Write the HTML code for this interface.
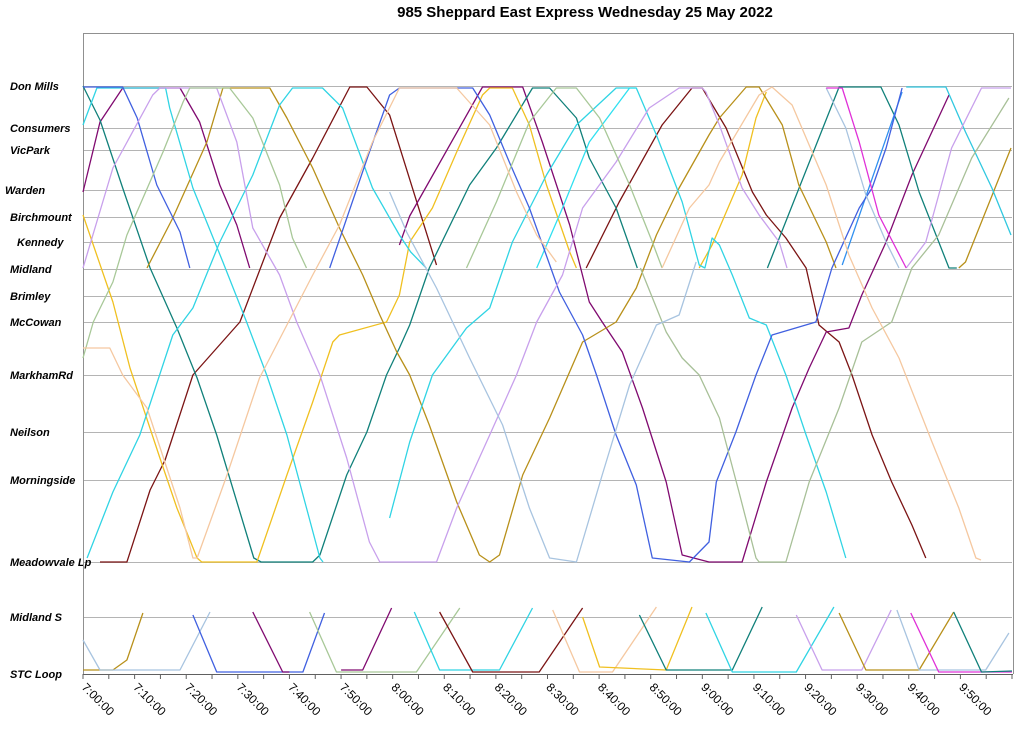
<!DOCTYPE html>
<html><head><meta charset="utf-8"><style>
body{margin:0;background:#fff;}
svg{display:block;font-family:"Liberation Sans",sans-serif;}
</style></head><body>
<svg id="chart" width="1024" height="738"></svg>
<script>
const stationNames=["Don Mills","Consumers","VicPark","Warden","Birchmount","Kennedy","Midland","Brimley","McCowan","MarkhamRd","Neilson","Morningside","Meadowvale Lp","Midland S","STC Loop"];
const stationDist=[0,4.2,6.4,10.4,13.1,15.6,18.3,21.0,23.6,28.9,34.6,39.4,47.6,53.1,58.8];
const tickLabels=["7:00:00","7:10:00","7:20:00","7:30:00","7:40:00","7:50:00","8:00:00","8:10:00","8:20:00","8:30:00","8:40:00","8:50:00","9:00:00","9:10:00","9:20:00","9:30:00","9:40:00","9:50:00"];
const tickMinutes=[0,10,20,30,40,50,60,70,80,90,100,110,120,130,140,150,160,170];

const maroonA=[[3.3,47.6],[8.5,47.6],[13,40.4],[15.9,37.4],[21.3,28.9],[30.4,23.6],[38.1,13.2],[44.5,7.2],[51.7,0.1],[55,0.1],[59.4,2.9],[68.5,17.9]];
const maroonB=[[97.5,18.2],[103.9,11.6],[112.2,3.9],[118,0.2],[120,0.2],[124.6,4.2],[129.7,10.6],[132.4,12.9],[136.2,15.2],[140.1,18.2],[142.6,23.9],[146.5,25.6],[149,28.9],[152.9,34.9],[156.7,39.6],[160.6,43.9],[163.3,47.2]];
const purpleA=[[0,10.6],[3.3,3.6],[7.7,0.2],[18.8,0.2],[22.6,3.6],[26.5,9.9],[29.8,13.9],[32.3,18.2]];
const purpleB=[[61.3,15.9],[63.3,13],[77.4,0.1],[85.2,0.1],[89,5.6],[94.3,13.9],[98.1,21.6],[100.6,23.6],[104.5,26.6],[108.4,32.2],[113,39.6],[116.1,46.9],[121.3,47.6],[127.7,47.6],[132.4,39.6],[137.4,32.2],[140.7,28.2],[144,24.6],[148.4,24.2],[150.9,20.9],[155.6,15.6],[160.6,8.9],[167.8,0.9]];
const tealA=[[0,0],[3.3,3.4],[7.7,10.2],[13,18.2],[18.2,24.2],[22.1,29.2],[25.9,34.9],[33.1,47.2],[34.5,47.6],[44.5,47.6],[45.9,46.9],[51.1,38.9],[55,34.6],[58.8,28.9],[61.3,26.2],[63.3,23.9],[67.1,18.2],[74.9,9.9],[80.1,6.2],[87.1,0.2],[90.4,0.2],[95.6,3.2],[98.1,7.2],[103.3,12.2],[107.4,18.2]];
const tealB=[[132.6,18.2],[146.5,0.1],[154.6,0.1],[158.1,3.9],[162,10.6],[167.8,18.2],[169.3,18.2]];
const yellowA=[[0,12.9],[5.8,21.6],[9.1,28.2],[14.9,37.2],[18.2,42.2],[22.1,47.2],[23,47.6],[33.7,47.6],[39.5,38.9],[44.5,31.6],[48.4,25.6],[49.7,24.9],[58.8,23.6],[61.3,20.9],[63.3,15.6],[67.7,12.2],[72.4,6.6],[77.4,0.9],[78.8,0.2],[83.2,0.2],[86.5,3.9],[89.8,9.9],[94.3,16.6],[95.6,18.2]];
const yellowB=[[119.4,18.2],[121.9,15.9],[127.7,8.9],[130.4,3.2],[132.4,0.6]];
const oliveA=[[12.4,18.2],[17.4,13.2],[24,5.6],[27.1,0.2],[36.2,0.2],[39.5,3.2],[44.5,8.2],[49.7,14.2],[54.2,18.9],[57.5,22.9],[60.8,26.6],[63.3,28.9],[67.1,33.9],[72.4,41.6],[76.8,46.9],[78.8,47.6],[80.7,46.9],[85.2,38.9],[90.4,33.2],[96.8,25.6],[103.3,23.6],[107.2,20.2],[111.1,14.9],[115.5,10.2],[121.3,4.9],[123.3,3.2],[128.5,0.1],[131,0.1],[135.5,3.9],[138.7,9.9],[144,15.6],[145.9,18.2]];
const oliveB=[[169.7,18.2],[171,17.6],[179.8,6.2]];
const cyanA=[[0,3.9],[2.7,0.2],[16,0.2],[16.8,2.2],[21.3,10.2],[27.1,17.6],[31.7,23.6],[35.6,28.9],[39.5,34.9],[43.3,42.2],[45.9,47.2],[46.5,47.6]];
const cyanB=[[0.8,47.2],[5.8,40.6],[11,34.9],[17.4,24.9],[21.3,22.2],[26.5,15.6],[32.9,8.9],[38.1,1.9],[40.6,0.2],[46.4,0.2],[50.3,2.2],[56.1,10.2],[61.3,14.9],[63.5,16.6],[66.5,18.2]];
const cyanC=[[59.4,43.2],[63.3,35.6],[67.7,28.9],[74.3,24.2],[78.8,22.2],[83.2,15.6],[89.8,8.9],[95.6,3.9],[103.3,0.2],[107.2,0.2],[111.1,4.9],[116.1,11.6],[119.4,17.9],[120.5,18.2],[121.9,15.2],[123.3,15.9],[125.8,18.9],[129.1,23.2],[132.4,23.9],[136.2,28.9],[140.1,34.9],[144,40.6],[147.8,47.2]];
const cyanD=[[87.9,18.2],[92.9,12.2],[98.1,5.6],[105.9,0.2],[107.2,0.2]];
const azureE=[[147.1,17.9],[158.7,0.6]];
const cyanF=[[159.5,0.1],[167.2,0.1],[171,4.6],[176.1,10.2],[179.8,14.9]];
const blueA=[[0,0.1],[7.7,0.1],[10.5,3.2],[14.3,9.9],[18.8,14.6],[20.7,18.2]];
const blueB=[[47.8,18.2],[55.5,6.6],[59.4,0.9],[61.3,0.2],[75.5,0.2],[78.8,2.9],[82.6,7.6],[86.5,12.2],[92.3,20.6],[96.8,24.9],[99.5,28.9],[103.3,34.9],[107.2,39.9],[110.3,47.2],[117.5,47.6],[121.3,45.6],[122.7,39.6],[126.5,34.6],[130.4,28.9],[133.5,24.9],[142,23.6],[145.1,18.2],[150.4,12.2],[152.9,10.2],[155.6,6.2],[158.7,0.2]];
const lavenderA=[[0,18.2],[5.8,8.2],[13.5,0.9],[14.9,0.2],[25.9,0.2],[29.8,5.6],[32.9,14.2],[38.1,18.9],[41.4,23.6],[45.9,28.9],[51.1,37.2],[55.5,45.6],[57.5,47.6],[68.5,47.6],[72.4,42.2],[78.8,34.9],[84,28.9],[87.9,23.6],[92.9,18.9],[96.8,12.2],[103.3,7.6],[109.7,2.2],[115.5,0.2],[120,0.2],[120.7,0.6],[123.3,3.9],[127.7,10.2],[131,12.9],[134.9,15.6],[136.4,18.2]];
const lavenderB=[[159.5,18.2],[163.3,15.6],[168.3,6.2],[174.1,0.2],[179.8,0.2]];
const sageA=[[0,27.2],[2,23.6],[5.8,19.6],[8.5,14.9],[15.5,6.6],[19.4,1.6],[20.7,0.2],[28.4,0.2],[32.9,3.2],[38.1,9.9],[40.6,15.2],[43.3,18.2]];
const sageB=[[74.3,18.2],[80.1,11.6],[86.5,3.6],[91.7,0.2],[95.6,0.2],[100.1,3.2],[105.9,9.9],[110.3,15.6],[112.2,18.2]];
const sageC=[[108,18.2],[113,24.6],[116.1,27.2],[119.4,28.9],[123.3,33.2],[127.1,40.6],[130.4,47.2],[131,47.6],[136.2,47.6],[140.7,39.6],[146.5,32.2],[150.9,25.6],[156.7,23.6],[160.6,18.2],[165.8,14.9],[172.2,7.2],[179.4,1.2]];
const steelA=[[59.4,10.6],[62.7,14.6],[68.5,20.2],[74.9,27.2],[81.3,33.9],[86.5,42.2],[90.4,47.2],[95.6,47.6],[100.6,38.9],[105.9,29.9],[111.1,23.9],[115.5,22.9],[118.8,17.6]];
const steelB=[[144,0.2],[147.8,4.2],[151.7,10.9],[155.6,15.6],[158.1,18.2]];
const peachA=[[0,26.2],[5.2,26.2],[7.7,28.9],[12.4,32.2],[18.8,42.2],[21.3,47.2],[22.1,47.2],[27.9,38.9],[34.2,29.2],[39.5,23.9],[44.5,18.9],[49.7,13.9],[56.1,5.6],[61.3,0.2],[72.4,0.2],[78.8,3.9],[84,10.6],[87.9,14.9],[91.7,17.6]];
const peachB=[[112.2,18.2],[117.5,12.2],[121.3,9.9],[123.3,7.6],[131,0.9],[133.5,0.1],[137.4,1.9],[144,9.9],[148.4,16.9],[152.9,22.2],[158.1,27.2],[164.5,35.6],[169.7,42.2],[173,47.2],[174,47.4]];
const magentaA=[[144,0.2],[147.1,0.2],[150.4,5.6],[154.2,12.9],[159.5,18.2]];
const brOlive1=[[0,58.4],[5.8,58.4],[8.5,57.4],[11.6,52.7]];
const brSteel1=[[0,55.4],[3.3,58.4],[18.8,58.4],[24.6,52.6]];
const brBlue=[[21.3,52.9],[25.9,58.6],[42.6,58.6],[46.8,52.7]];
const brPurple1=[[32.9,52.6],[38.7,58.6],[40,58.6]];
const brPurple2=[[50,58.4],[54.2,58.4],[59.8,52.2]];
const brSage=[[43.9,52.6],[49.1,58.6],[64.6,58.6],[73,52.2]];
const brCyan1=[[64.2,52.6],[69.1,58.4],[80.7,58.4],[87.1,52.2]];
const brMaroon=[[69.1,52.6],[75.5,58.6],[88.4,58.6],[96.8,52.2]];
const brPeach=[[91,52.4],[96.2,58.6],[102.6,58.6],[111.1,52.1]];
const brYellow=[[96.8,53.1],[100.1,58.1],[113,58.4],[118,52.1]];
const brTeal=[[107.8,52.9],[113,58.4],[125.8,58.4],[131.6,52.1]];
const brCyan2=[[120.7,52.7],[125.8,58.6],[138.2,58.6],[145.5,52.1]];
const brLavender=[[138.2,52.9],[143.2,58.4],[150.9,58.4],[156.6,52.4]];
const brOlive2=[[146.5,52.7],[151.7,58.4],[162,58.4],[168.7,52.6]];
const brSteel2=[[157.7,52.4],[162,58.4],[175,58.4]];
const brMagenta=[[160.4,52.7],[165.8,58.6],[180,58.6]];
const brTeal2=[[168.7,52.6],[174.1,58.6],[180,58.5]];
const brSteel3=[[174.9,58.4],[179.4,54.7]];

const series=[
 [maroonA,"#7b1414"],[maroonB,"#7b1414"],[purpleA,"#800a70"],[purpleB,"#800a70"],
 [tealA,"#10807a"],[tealB,"#10807a"],[yellowA,"#f0c020"],[yellowB,"#f0c020"],
 [oliveA,"#b8901a"],[oliveB,"#b8901a"],[cyanA,"#30d4e4"],[cyanB,"#30d4e4"],[cyanC,"#30d4e4"],
 [cyanD,"#30e0f0"],[azureE,"#3090f0"],[cyanF,"#30c8e0"],[blueA,"#4060e0"],[blueB,"#4060e0"],
 [lavenderA,"#c8a0ec"],[lavenderB,"#c8a0ec"],[sageA,"#a8c898"],[sageB,"#a8c898"],[sageC,"#a8c098"],
 [steelA,"#a8c4e0"],[steelB,"#a8c4e0"],[peachA,"#f5c8a0"],[peachB,"#f5c8a0"],[magentaA,"#e030d8"],
 [brOlive1,"#b8901a"],[brSteel1,"#a8c4e0"],[brBlue,"#4060e0"],[brPurple1,"#800a70"],[brPurple2,"#800a70"],
 [brSage,"#a8c898"],[brCyan1,"#30d4e4"],[brMaroon,"#7b1414"],[brPeach,"#f5c8a0"],[brYellow,"#f0c020"],
 [brTeal,"#10807a"],[brCyan2,"#30d4e4"],[brLavender,"#c8a0ec"],[brOlive2,"#b8901a"],[brSteel2,"#a8c4e0"],
 [brMagenta,"#e030d8"],[brTeal2,"#10807a"],[brSteel3,"#a8c4e0"]
];

const NS="http://www.w3.org/2000/svg";
const svg=document.getElementById('chart');
const X0=83,X1=1012,Y0=86,YPX=10;
function xs(m){return X0+(X1-X0)*m/180;}
function ys(d){return Y0+d*YPX;}
function mk(tag,attrs,parent){const e=document.createElementNS(NS,tag);for(const k in attrs)e.setAttribute(k,attrs[k]);(parent||svg).appendChild(e);return e;}

let t=mk('text',{x:585,y:17,'text-anchor':'middle','font-size':'15','font-weight':'bold',fill:'#000'});


t.textContent="985 Sheppard East Express Wednesday 25 May 2022";

const grid=mk('g',{});


stationDist.forEach((d,i)=>{
  const gy=Math.round(ys(d))+0.5;
  const l=mk('line',{x1:X0,x2:X1,y1:gy,y2:gy,stroke:'#b4b4b4','stroke-width':1},grid);
  
  
  const lx=i===3?5:(i===5?17:10);
  const tx=mk('text',{x:lx,y:ys(d)+4,'font-size':'11','font-weight':'bold','font-style':'italic',fill:'#000'});
  
  
  tx.textContent=stationNames[i];
});
const frame=mk('path',{d:`M${X0+0.5},674 V33.5 H${X1+1.5} V674`,fill:'none',stroke:'#909090','stroke-width':1});


const ax=mk('line',{x1:X0,x2:X1+1,y1:674.5,y2:674.5,stroke:'#606060','stroke-width':1});


for(let m=0;m<=180;m+=5){
  const tk=mk('line',{x1:xs(m),x2:xs(m),y1:674,y2:679,stroke:'#606060'});
  
  
}
tickMinutes.forEach((m,i)=>{
  const x=xs(m)-2,y=688;
  const tl=mk('text',{x:x,y:y,'font-size':'12',fill:'#000',transform:`rotate(45 ${x} ${y})`});
  
  
  tl.textContent=tickLabels[i];
});
const lines=mk('g',{fill:'none','stroke-width':1.3,'stroke-linejoin':'round'});


series.forEach((s,i)=>{
  const d=s[0].map((p,j)=>(j?'L':'M')+xs(p[0]).toFixed(1)+','+ys(p[1]).toFixed(1)).join(' ');
  const p=mk('path',{d:d,stroke:s[1]},lines);
  
  
});
</script>
</body></html>
